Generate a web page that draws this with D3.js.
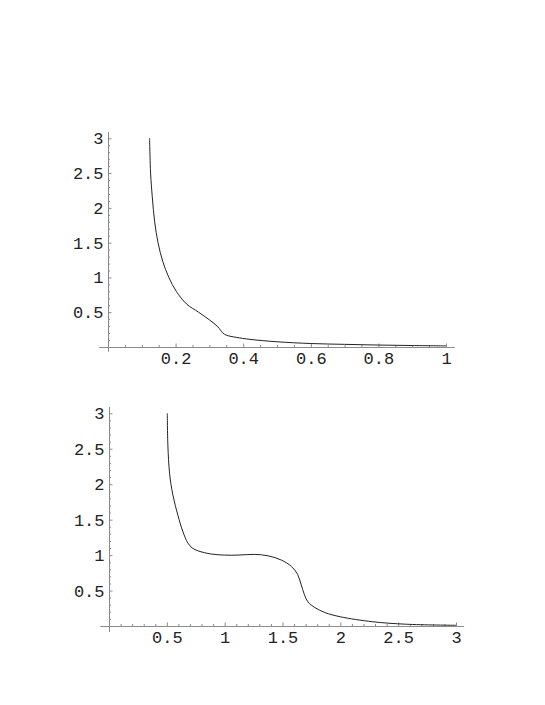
<!DOCTYPE html>
<html>
<head>
<meta charset="utf-8">
<script src="https://cdn.jsdelivr.net/npm/d3@7"></script>
<style>
  body { margin: 0; background: #fff; }
  text { font-family: "Liberation Mono", "Courier New", monospace; font-size: 17px; fill: #222; }
</style>
</head>
<body>
<svg id="chart" width="545" height="705"></svg>
<script>
// upper plot, curve
const upperX = [0.123, 0.126, 0.131, 0.138, 0.148, 0.162, 0.18, 0.202, 0.232, 0.268, 0.3, 0.325, 0.34, 0.35, 0.38, 0.42, 0.5, 0.6, 0.7, 0.8, 0.9, 1.0]
const upperY = [3.0, 2.5, 2.16, 1.8, 1.5, 1.23, 1.0, 0.8, 0.62, 0.5, 0.39, 0.29, 0.2, 0.17, 0.138, 0.11, 0.075, 0.05, 0.038, 0.028, 0.021, 0.016]
const upperXTicks = [0.2, 0.4, 0.6, 0.8, 1]
const upperYTicks = [0.5, 1, 1.5, 2, 2.5, 3]

// lower plot
const lowerX = [0.504, 0.509, 0.524, 0.552, 0.596, 0.639, 0.682, 0.72, 0.77, 0.885, 1.0, 1.115, 1.26, 1.375, 1.49, 1.577, 1.63, 1.66, 1.69, 1.72, 1.78, 1.866, 2.0, 2.28, 2.57, 3.0]
const lowerY = [3.0, 2.55, 2.15, 1.85, 1.56, 1.33, 1.17, 1.1, 1.06, 1.015, 1.0, 1.0, 1.01, 0.99, 0.93, 0.84, 0.73, 0.59, 0.44, 0.34, 0.26, 0.19, 0.13, 0.06, 0.025, 0.01]
const lowerXTicks = [0.5, 1, 1.5, 2, 2.5, 3]
const lowerYTicks = [0.5, 1, 1.5, 2, 2.5, 3]

const axisColor = "#8a8a8a"
const majorTick = 3.5
const minorTick = 2

const svg = d3.select("#chart")

const panels = [
    {
        x: d3.scaleLinear().domain([0, 1]).range([108, 446]),
        y: d3.scaleLinear().domain([0, 3]).range([347, 138.3]),
        xs: upperX, ys: upperY,
        xTicks: upperXTicks, yTicks: upperYTicks,
        xMinorStep: 0.05, yMinorStep: 0.1,
        xExtent: [-0.026, 1.026], yExtent: [-0.068, 3.09]
    },
    {
        x: d3.scaleLinear().domain([0, 3]).range([109, 456]),
        y: d3.scaleLinear().domain([0, 3]).range([626, 413.3]),
        xs: lowerX, ys: lowerY,
        xTicks: lowerXTicks, yTicks: lowerYTicks,
        xMinorStep: 0.1, yMinorStep: 0.1,
        xExtent: [-0.074, 3.07], yExtent: [-0.085, 3.09]
    }
]

const fmt = d => String(+d.toFixed(2))

panels.forEach(p => {
    const g = svg.append("g")
    const x0 = p.x(0), y0 = p.y(0)

    // minor ticks (no labels)
    const xMinor = d3.range(p.xMinorStep, p.x.domain()[1] + 1e-9, p.xMinorStep)
        .filter(v => !p.xTicks.some(t => Math.abs(t - v) < 1e-6))
    const yMinor = d3.range(p.yMinorStep, p.y.domain()[1] + 1e-9, p.yMinorStep)
        .filter(v => !p.yTicks.some(t => Math.abs(t - v) < 1e-6))

    const gx = g.append("g").attr("transform", `translate(0,${y0})`)
    gx.append("g").call(d3.axisBottom(p.x).tickValues(xMinor).tickSize(-minorTick).tickFormat(""))
    gx.append("g").call(d3.axisBottom(p.x).tickValues(p.xTicks).tickSize(-majorTick).tickPadding(4.5).tickFormat(fmt))

    const gy = g.append("g").attr("transform", `translate(${x0},0)`)
    gy.append("g").call(d3.axisLeft(p.y).tickValues(yMinor).tickSize(-minorTick).tickFormat(""))
    gy.append("g").call(d3.axisLeft(p.y).tickValues(p.yTicks).tickSize(-majorTick).tickPadding(4.5).tickFormat(fmt))

    g.selectAll(".domain").remove()
    g.selectAll(".tick line").attr("stroke", axisColor)
    g.selectAll(".tick text").attr("fill", "#222").attr("font-family", null).attr("font-size", null)

    // axis lines through the origin
    g.append("line")
        .attr("x1", p.x(p.xExtent[0])).attr("x2", p.x(p.xExtent[1]))
        .attr("y1", y0 + 0.5).attr("y2", y0 + 0.5)
        .attr("stroke", axisColor)
    g.append("line")
        .attr("x1", x0 + 0.5).attr("x2", x0 + 0.5)
        .attr("y1", p.y(p.yExtent[0])).attr("y2", p.y(p.yExtent[1]))
        .attr("stroke", axisColor)

    const pts = p.xs.map((v, i) => [v, p.ys[i]])
    g.append("path")
        .datum(pts)
        .attr("fill", "none")
        .attr("stroke", "#222")
        .attr("stroke-width", 1)
        .attr("d", d3.line().x(d => p.x(d[0])).y(d => p.y(d[1])).curve(d3.curveCatmullRom.alpha(0.5)))
})
</script>
</body>
</html>
